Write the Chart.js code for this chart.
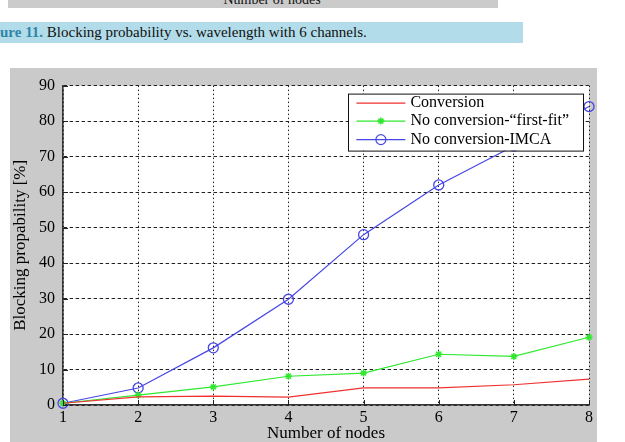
<!DOCTYPE html>
<html>
<head>
<meta charset="utf-8">
<script src="https://cdn.jsdelivr.net/npm/chart.js@4/dist/chart.umd.min.js"></script>
<style>
  html, body { margin: 0; padding: 0; background: #ffffff; width: 625px; height: 442px; overflow: hidden; }
  #topband { position: absolute; left: 8px; top: 0; width: 490px; height: 8px; background: #cbcbcb; overflow: hidden; }
  #topband span { position: absolute; left: 0; width: 528px; top: -7px; text-align: center; font: 14px "Liberation Serif", serif; line-height: 14px; color: #111; }
  #caption { position: absolute; left: 0; top: 22px; width: 523px; height: 21px; background: #b3dcea; font: 15px "Liberation Serif", serif; line-height: 21px; color: #111; white-space: nowrap; }
  #caption b { color: #2f86a8; }
  #fig { position: absolute; left: 10px; top: 68px; width: 587px; height: 374px; background: #cacaca; }
</style>
</head>
<body>
<div id="topband"><span>Number of nodes</span></div>
<div id="caption"><b>ure 11.</b> Blocking probability vs. wavelength with 6 channels.</div>
<div id="fig"><canvas id="c" width="587" height="374"></canvas></div>
<script>
const nodes = ['1', '2', '3', '4', '5', '6', '7', '8'];
const yTicks = [0, 10, 20, 30, 40, 50, 60, 70, 80, 90];
const conversion = [0.5, 2.3, 2.5, 2.2, 4.8, 4.8, 5.7, 7.3];
const firstFit = [0.5, 2.8, 5.1, 8.1, 9.0, 14.3, 13.7, 19.1];
const imca = [0.5, 4.8, 16.1, 29.8, 48.0, 62.0, 73.0, 84.1];
const seriesNames = ['Conversion', 'No conversion-\u201Cfirst-fit\u201D', 'No conversion-IMCA'];

const RED = '#f03030', GREEN = '#2fe82f', BLUE = '#4646e6';
const SERIF = '"Liberation Serif", "Times New Roman", serif';

const bgPlugin = {
  id: 'bg',
  beforeDraw(chart) {
    const {ctx, chartArea: a} = chart;
    ctx.save();
    ctx.fillStyle = '#ffffff';
    ctx.fillRect(a.left, a.top, a.right - a.left, a.bottom - a.top);
    ctx.restore();
  }
};

const tickPlugin = {
  id: 'inTicks',
  afterDraw(chart) {
    const {ctx, chartArea: a, scales} = chart;
    ctx.save();
    ctx.strokeStyle = '#222';
    ctx.lineWidth = 1;
    ctx.beginPath();
    nodes.forEach((n, i) => {
      const x = Math.round(scales.x.getPixelForValue(i)) + 0.5;
      ctx.moveTo(x, a.bottom); ctx.lineTo(x, a.bottom - 5);
    });
    yTicks.forEach(v => {
      const y = Math.round(scales.y.getPixelForValue(v)) + 0.5;
      ctx.moveTo(a.left, y); ctx.lineTo(a.left + 5, y);
    });
    ctx.stroke();
    ctx.restore();
  }
};

function drawStar(ctx, x, y, r) {
  ctx.beginPath();
  for (let k = 0; k < 4; k++) {
    const ang = k * Math.PI / 4;
    ctx.moveTo(x - r * Math.cos(ang), y - r * Math.sin(ang));
    ctx.lineTo(x + r * Math.cos(ang), y + r * Math.sin(ang));
  }
  ctx.stroke();
}

const legendPlugin = {
  id: 'boxLegend',
  afterDraw(chart) {
    const {ctx, chartArea: a} = chart;
    ctx.save();
    ctx.font = '16px ' + SERIF;
    const widths = chart.data.datasets.map(d => ctx.measureText(d.label).width);
    const maxW = Math.max(...widths);
    const w = 8 + 49 + 5 + maxW + 14;
    const h = 57;
    const right = a.right - 6, top = a.top + 8;
    const left = right - w;
    ctx.fillStyle = '#ffffff';
    ctx.fillRect(left, top, w, h);
    ctx.strokeStyle = '#111';
    ctx.lineWidth = 1;
    ctx.strokeRect(Math.round(left) + 0.5, top + 0.5, Math.round(w), h);
    const rows = [9.5, 27.5, 46];
    chart.data.datasets.forEach((d, i) => {
      const y = top + rows[i];
      const x0 = left + 8, x1 = left + 57;
      ctx.strokeStyle = d.borderColor;
      ctx.lineWidth = 1.2;
      ctx.beginPath(); ctx.moveTo(x0, y); ctx.lineTo(x1, y); ctx.stroke();
      const xm = (x0 + x1) / 2;
      if (d.pointStyle === 'circle' && d.pointRadius > 0) {
        ctx.beginPath(); ctx.arc(xm, y, 5, 0, Math.PI * 2); ctx.stroke();
      } else if (d.pointStyle === 'star' && d.pointRadius > 0) {
        ctx.lineWidth = 1.5; drawStar(ctx, xm, y, 3.5);
      }
      ctx.fillStyle = '#000';
      ctx.textBaseline = 'middle';
      ctx.textAlign = 'left';
      ctx.fillText(d.label, x1 + 5, y);
    });
    ctx.restore();
  }
};

new Chart(document.getElementById('c'), {
  type: 'line',
  data: {
    labels: nodes,
    datasets: [
      { label: seriesNames[0], data: conversion, borderColor: RED, borderWidth: 1.2, pointRadius: 0, pointStyle: 'line', fill: false, tension: 0 },
      { label: seriesNames[1], data: firstFit, borderColor: GREEN, backgroundColor: GREEN, borderWidth: 1.2, pointRadius: 3.5, pointBorderWidth: 1.5, pointStyle: 'star', fill: false, tension: 0 },
      { label: seriesNames[2], data: imca, borderColor: BLUE, backgroundColor: 'rgba(0,0,0,0)', borderWidth: 1.2, pointRadius: 5, pointBorderWidth: 1.3, pointStyle: 'circle', fill: false, tension: 0 }
    ]
  },
  options: {
    responsive: false,
    animation: false,
    clip: false,
    layout: { padding: { left: 0, top: 11, right: 8, bottom: 0 } },
    plugins: { legend: { display: false }, tooltip: { enabled: false } },
    scales: {
      x: {
        type: 'category',
        offset: false,
        afterFit(s) { s.height = 37; },
        grid: { color: '#222', lineWidth: 1, drawTicks: false },
        border: { display: true, color: '#333', width: 1.6, dash: [1.5, 2.5] },
        ticks: { color: '#000', font: { family: SERIF, size: 16 }, padding: 3, maxRotation: 0 },
        title: { display: true, text: 'Number of nodes', color: '#000', font: { family: SERIF, size: 17, lineHeight: 1 }, padding: 0 }
      },
      y: {
        min: 0, max: 90,
        afterFit(s) { s.width = 53; },
        afterBuildTicks(s) { s.ticks = yTicks.map(v => ({ value: v })); },
        grid: { color: '#222', lineWidth: 1, drawTicks: false },
        border: { display: true, color: '#333', width: 1.6, dash: [3.5, 2.5] },
        ticks: { color: '#000', font: { family: SERIF, size: 16 }, padding: 8 },
        title: { display: true, text: 'Blocking propability [%]', color: '#000', font: { family: SERIF, size: 17, lineHeight: 1.2 }, padding: 0 }
      }
    }
  },
  plugins: [bgPlugin, tickPlugin, legendPlugin]
});
</script>
</body>
</html>
